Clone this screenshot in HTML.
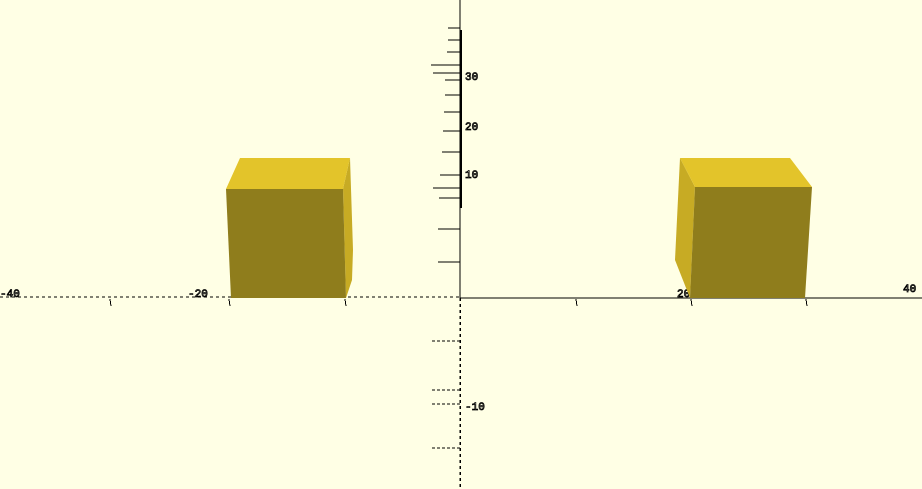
<!DOCTYPE html>
<html><head><meta charset="utf-8">
<style>html,body{margin:0;padding:0;background:#ffffe5;}svg{display:block;}</style></head>
<body>
<svg width="922" height="489" viewBox="0 0 922 489" xmlns="http://www.w3.org/2000/svg">
<rect width="922" height="489" fill="#ffffe5"/>
<g id="axes" stroke="#000" fill="none" shape-rendering="crispEdges">
<line x1="460" y1="298" x2="922" y2="298" stroke-width="1"/>
<line x1="0" y1="297" x2="460" y2="297" stroke-width="1" stroke-dasharray="3,3"/>
<line x1="460" y1="0" x2="460" y2="298" stroke-width="1"/>
<line x1="461" y1="30" x2="461" y2="208" stroke-width="2"/>
<line x1="460" y1="298" x2="460" y2="489" stroke-width="1.5" stroke-dasharray="3,3"/>
</g>
<g id="ticks" stroke="#000" fill="none" shape-rendering="crispEdges"></g>
<g id="labels" font-family="Liberation Mono, monospace" font-size="11" fill="none" stroke="#000" stroke-width="0.8"></g>
<g>
<polygon points="343,189 350,158 353,250 352,280 346,298" fill="#c7ab24"/>
<polygon points="226,189 343,189 346,298 231,298" fill="#8f7d1c"/>
<polygon points="226,189 240,158 350,158 343,189" fill="#e3c42a"/>
</g>
<g>
<polygon points="680,158 695,187 690,298 675,260" fill="#c7ab24"/>
<polygon points="695,187 812,187 805,298 690,298" fill="#8f7d1c"/>
<polygon points="680,158 790,158 812,187 695,187" fill="#e3c42a"/>
</g>
</svg>
<script>
const yTickYs = [28, 40, 52, 65, 73, 80, 95, 112, 131, 152, 175, 188, 198, 229, 262];
const yTickLens = [12, 12, 13, 29, 27, 15, 15, 16, 17, 18, 20, 27, 21, 22, 22];
const yNegTickYs = [341, 390, 404, 448];
const xTickXs = [110, 229, 345, 576, 691, 806];
const ns = 'http://www.w3.org/2000/svg';
const ticks = document.getElementById('ticks');
yTickYs.forEach((y, i) => {
  const l = document.createElementNS(ns, 'line');
  
  
  l.setAttribute('x1', 460 - yTickLens[i]); l.setAttribute('x2', 460);
  l.setAttribute('y1', y); l.setAttribute('y2', y);
  ticks.appendChild(l);
});
yNegTickYs.forEach(y => {
  const l = document.createElementNS(ns, 'line');
  
  
  l.setAttribute('x1', 432); l.setAttribute('x2', 460);
  l.setAttribute('y1', y); l.setAttribute('y2', y);
  l.setAttribute('stroke-dasharray', '3,2');
  ticks.appendChild(l);
});
xTickXs.forEach(x => {
  const l = document.createElementNS(ns, 'line');
  
  
  l.setAttribute('x1', x); l.setAttribute('x2', x + 1);
  l.setAttribute('y1', 299); l.setAttribute('y2', 306);
  ticks.appendChild(l);
});
const labelTexts = ['30', '20', '10', '-10', '-20', '20', '40', '-40'];
const labelPos = [[465, 80], [465, 130], [465, 178], [465, 410], [188, 297], [677, 297], [903, 292], [0, 297]];
const labels = document.getElementById('labels');
labelTexts.forEach((t, i) => {
  const e = document.createElementNS(ns, 'text');
  
  
  e.setAttribute('x', labelPos[i][0]); e.setAttribute('y', labelPos[i][1]);
  e.textContent = t;
  labels.appendChild(e);
});
</script>
</body></html>
